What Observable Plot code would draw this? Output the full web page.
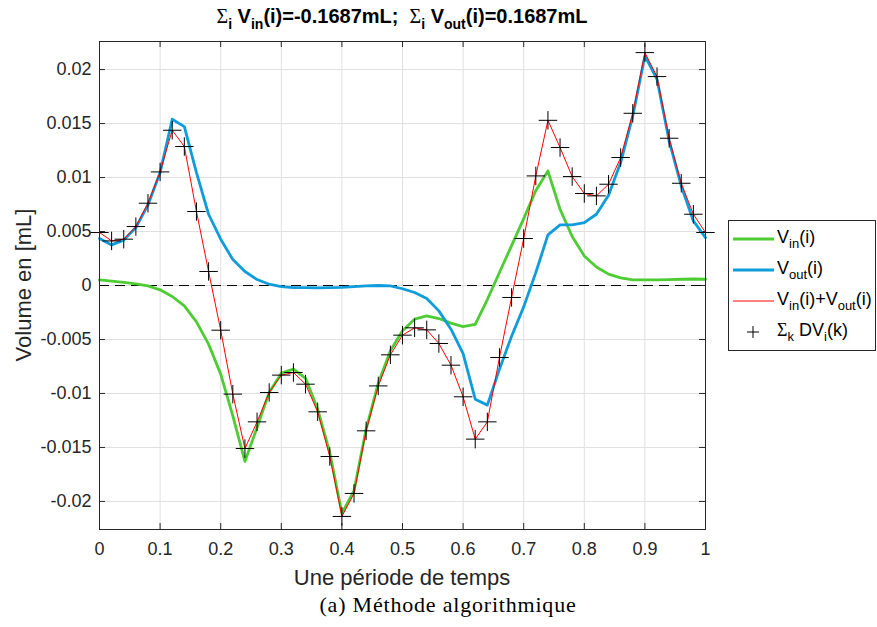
<!DOCTYPE html>
<html>
<head>
<meta charset="utf-8">
<script src="https://cdn.jsdelivr.net/npm/d3@7"></script>
<script src="https://cdn.jsdelivr.net/npm/@observablehq/plot@0.6"></script>
<style>
  html, body { margin: 0; padding: 0; background: white; }
  #chart { width: 877px; height: 627px; }
</style>
</head>
<body>
<div id="chart"></div>
<script>
// ---- data ----
const t = [0, 0.02, 0.04, 0.06, 0.08, 0.1, 0.12, 0.14, 0.16, 0.18,
           0.2, 0.22, 0.24, 0.26, 0.28, 0.3, 0.32, 0.34, 0.36, 0.38,
           0.4, 0.42, 0.44, 0.46, 0.48, 0.5, 0.52, 0.54, 0.56, 0.58,
           0.6, 0.62, 0.64, 0.66, 0.68, 0.7, 0.72, 0.74, 0.76, 0.78,
           0.8, 0.82, 0.84, 0.86, 0.88, 0.9, 0.92, 0.94, 0.96, 0.98, 1];

const vin = [0.00052, 0.0004, 0.00028, 0.00015, -0.00003, -0.0004, -0.00102, -0.00189, -0.00337, -0.00543,
             -0.00821, -0.01207, -0.0163, -0.01315, -0.0099, -0.00812, -0.00775, -0.0086, -0.01145, -0.01546,
             -0.0211, -0.019, -0.0133, -0.00905, -0.00605, -0.0042, -0.00312, -0.00281, -0.00306, -0.00349,
             -0.0038, -0.0036, -0.0013, 0.0012, 0.0037, 0.0062, 0.0088, 0.0106, 0.00706, 0.00454,
             0.00274, 0.00172, 0.00105, 0.0007, 0.00052, 0.00052, 0.00053, 0.00055, 0.00058, 0.0006, 0.00058];

const vout = [0.00435, 0.00376, 0.0042, 0.00537, 0.00746, 0.01046, 0.0154, 0.01472, 0.01046, 0.0066,
              0.00429, 0.0024, 0.0013, 0.00055, 0.00012, -0.0001, -0.0002, -0.0002, -0.00022, -0.0002,
              -0.00017, -0.0001, -0.00003, 0.0, -0.00004, -0.0003, -0.00065, -0.0012, -0.00235, -0.00405,
              -0.0063, -0.01053, -0.01108, -0.00775, -0.0047, -0.00198, 0.0012, 0.00469, 0.00561, 0.00561,
              0.00583, 0.0066, 0.00836, 0.01139, 0.0157, 0.02126, 0.0191, 0.01339, 0.00922, 0.00598, 0.00444];

const sumDV = [0.00491, 0.00413, 0.00429, 0.00546, 0.00762, 0.01052, 0.01438, 0.01287, 0.00685, 0.0013,
               -0.00414, -0.01006, -0.0151, -0.01263, -0.00991, -0.0083, -0.00806, -0.00914, -0.0117, -0.01584,
               -0.02139, -0.01926, -0.01346, -0.0093, -0.00642, -0.0046, -0.00392, -0.00411, -0.00537, -0.00738,
               -0.01031, -0.01423, -0.01263, -0.00667, -0.00111, 0.00435, 0.01015, 0.0153, 0.01278, 0.01009,
               0.00852, 0.0083, 0.00938, 0.01185, 0.01595, 0.02157, 0.01935, 0.01364, 0.00947, 0.0066, 0.00491];

const xTicks = [0, 0.1, 0.2, 0.3, 0.4, 0.5, 0.6, 0.7, 0.8, 0.9, 1];
const xTickLabels = ["0", "0.1", "0.2", "0.3", "0.4", "0.5", "0.6", "0.7", "0.8", "0.9", "1"];
const yTicks = [-0.02, -0.015, -0.01, -0.005, 0, 0.005, 0.01, 0.015, 0.02];
const yTickLabels = ["-0.02", "-0.015", "-0.01", "-0.005", "0", "0.005", "0.01", "0.015", "0.02"];

const xLabel = "Une période de temps";
const yLabel = "Volume en [mL]";
const caption = "(a) Méthode algorithmique";

// ---- styles ----
const GREEN = "#4dcc33";
const BLUE = "#0e9cda";
const RED = "#ff0000";
const AXIS = "#262626";
const GRID = "#e0e0e0";

const rows = t.map((x, i) => ({t: x, vin: vin[i], vout: vout[i], sum: sumDV[i]}));

const W = 877, H = 627;
const mL = 99, mR = 172, mT = 41, mB = 98;
const innerW = W - mL - mR, innerH = H - mT - mB;
const TICK = 6;

const chart = Plot.plot({
  width: W, height: H,
  marginLeft: mL, marginRight: mR, marginTop: mT, marginBottom: mB,
  style: {fontFamily: "'Liberation Sans', Arial, sans-serif", fontSize: "18px", background: "white", color: AXIS, overflow: "visible"},
  x: {domain: [0, 1]},
  y: {domain: [-0.0226, 0.0226]},
  marks: [
    Plot.gridX(xTicks, {stroke: GRID, strokeOpacity: 1, strokeWidth: 1}),
    Plot.gridY(yTicks, {stroke: GRID, strokeOpacity: 1, strokeWidth: 1}),
    // inward ticks on all four sides
    Plot.ruleX(xTicks, {insetTop: innerH - TICK, stroke: AXIS}),
    Plot.ruleX(xTicks, {insetBottom: innerH - TICK, stroke: AXIS}),
    Plot.ruleY(yTicks, {insetRight: innerW - TICK, stroke: AXIS}),
    Plot.ruleY(yTicks, {insetLeft: innerW - TICK, stroke: AXIS}),
    Plot.ruleY([0], {stroke: "black", strokeWidth: 1, strokeDasharray: "10,6"}),
    Plot.line(rows, {x: "t", y: "vin", stroke: GREEN, strokeWidth: 2.8}),
    Plot.line(rows, {x: "t", y: "vout", stroke: BLUE, strokeWidth: 2.8}),
    Plot.line(rows, {x: "t", y: "sum", stroke: RED, strokeWidth: 1}),
    Plot.dot(rows, {x: "t", y: "sum", symbol: "plus", r: 6, stroke: "black", strokeWidth: 1}),
    Plot.frame({stroke: AXIS, strokeWidth: 1}),
    Plot.axisX(xTicks, {tickSize: 0, tickPadding: 13, label: null,
      tickFormat: d => xTickLabels[xTicks.indexOf(d)], fontSize: 18, fill: AXIS}),
    Plot.axisY(yTicks, {tickSize: 0, tickPadding: 8, label: null,
      tickFormat: d => yTickLabels[yTicks.indexOf(d)], fontSize: 18, fill: AXIS})
  ]
});

document.getElementById("chart").appendChild(chart);

const xs = chart.scale("x"), ys = chart.scale("y");
const svg = d3.select(chart);

// rich text helper with subscripts
function rich(sel, parts, subSize, shift) {
  let off = 0;
  parts.forEach(p => {
    const ts = sel.append("tspan").text(p.text);
    const target = p.sub ? shift : 0;
    if (target !== off) { ts.attr("dy", target - off); off = target; }
    if (p.sub) ts.attr("font-size", subSize);
    if (p.font) ts.attr("font-family", p.font).attr("font-weight", "normal");
  });
}

// title
const title = svg.append("text")
  .attr("x", xs.apply(0.5)).attr("y", 23)
  .attr("text-anchor", "middle")
  .attr("font-family", "'Liberation Sans', Arial, sans-serif")
  .attr("font-weight", "bold").attr("font-size", 20).attr("fill", "black");
rich(title, [
  {text: "Σ", font: "'Liberation Serif', serif"}, {text: "i", sub: true}, {text: " V"}, {text: "in", sub: true},
  {text: "(i)=-0.1687mL;  "},
  {text: "Σ", font: "'Liberation Serif', serif"}, {text: "i", sub: true}, {text: " V"}, {text: "out", sub: true},
  {text: "(i)=0.1687mL"}
], 14, 6);

// axis labels
svg.append("text")
  .attr("x", xs.apply(0.5)).attr("y", 585)
  .attr("text-anchor", "middle").attr("font-size", 22).attr("fill", AXIS)
  .attr("font-family", "'Liberation Sans', Arial, sans-serif")
  .text(xLabel);
svg.append("text")
  .attr("transform", `translate(31,${ys.apply(0)}) rotate(-90)`)
  .attr("text-anchor", "middle").attr("font-size", 22).attr("fill", AXIS)
  .attr("font-family", "'Liberation Sans', Arial, sans-serif")
  .text(yLabel);

// caption
svg.append("text")
  .attr("x", 448).attr("y", 612)
  .attr("text-anchor", "middle").attr("font-size", 22).attr("fill", "black")
  .attr("letter-spacing", "0.8px")
  .attr("font-family", "'Liberation Serif', 'Times New Roman', serif")
  .text(caption);

// legend
const lg = svg.append("g").attr("font-family", "'Liberation Sans', Arial, sans-serif").attr("font-size", 18);
lg.append("rect").attr("x", 728.5).attr("y", 220.5).attr("width", 147).attr("height", 130)
  .attr("fill", "white").attr("stroke", AXIS).attr("stroke-width", 1);
const legendItems = [
  {kind: "line", color: GREEN, width: 2.8, parts: [{text: "V"}, {text: "in", sub: true}, {text: "(i)"}]},
  {kind: "line", color: BLUE, width: 2.8, parts: [{text: "V"}, {text: "out", sub: true}, {text: "(i)"}]},
  {kind: "line", color: RED, width: 1, parts: [{text: "V"}, {text: "in", sub: true}, {text: "(i)+V"}, {text: "out", sub: true}, {text: "(i)"}]},
  {kind: "plus", parts: [{text: "Σ", font: "'Liberation Serif', serif"}, {text: "k", sub: true}, {text: " DV"}, {text: "i", sub: true}, {text: "(k)"}]}
];
legendItems.forEach((it, i) => {
  const cy = 239 + i * 31;
  if (it.kind === "line") {
    lg.append("line").attr("x1", 733).attr("x2", 774).attr("y1", cy).attr("y2", cy)
      .attr("stroke", it.color).attr("stroke-width", it.width);
  } else {
    lg.append("path").attr("d", `M${753 - 6},${cy}H${753 + 6}M753,${cy - 6}V${cy + 6}`)
      .attr("stroke", "black").attr("stroke-width", 1).attr("fill", "none");
  }
  const tx = lg.append("text").attr("x", 777).attr("y", cy + 4)
    .attr("text-anchor", "start").attr("fill", "black");
  rich(tx, it.parts, 13, 5);
});
</script>
</body>
</html>
